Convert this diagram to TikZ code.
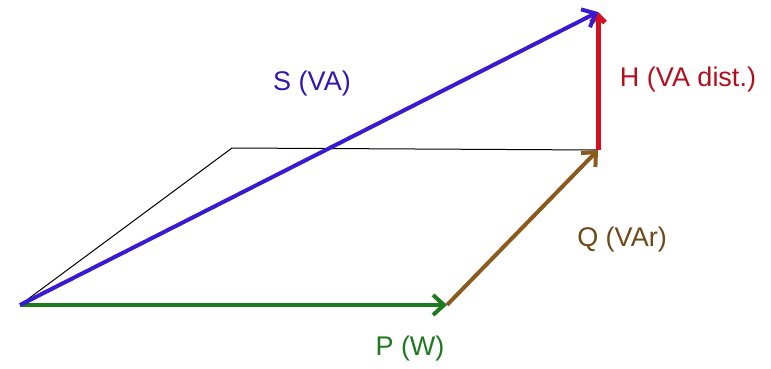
\documentclass[tikz,border=0pt]{standalone}
\usepackage{fontspec}
\setmainfont{Liberation Sans}
\usetikzlibrary{arrows.meta}
\definecolor{sblue}{HTML}{3A1AD0}
\definecolor{pgreen}{HTML}{1E7A1E}
\definecolor{qbrown}{HTML}{8A5A1E}
\definecolor{hred}{HTML}{D41020}
\begin{document}
\begin{tikzpicture}[x=1pt,y=-1pt, every node/.style={font=\fontsize{27}{29}\selectfont}, vec/.style={-{Straight Barb[length=11pt,width=20pt]}}]
\useasboundingbox (0,0) rectangle (771,369);
\coordinate (o) at (20,305);
\coordinate (pe) at (447,305);
\coordinate (qe) at (598,150);
\coordinate (he) at (598,12);
\coordinate (k) at (232,148);
\draw[black,line width=1pt] (o) -- (k) -- (qe);
\draw[vec,qbrown,line width=4pt] (pe) -- (qe);
\draw[hred,line width=5pt,-{Straight Barb[length=7pt,width=14pt]}] (qe) -- (he);
\draw[vec,pgreen,line width=4pt] (o) -- (pe);
\draw[vec,sblue,line width=4pt] (o) -- (he);
\node[text=sblue!85!black] (slab) at (312,84) {S (VA)};
\node[text=hred!85!black] (hlab) at (688,80) {H (VA dist.)};
\node[text=qbrown!80!black] (qlab) at (622,240) {Q (VAr)};
\node[text=pgreen] (plab) at (410,349) {P (W)};
\end{tikzpicture}
\end{document}
